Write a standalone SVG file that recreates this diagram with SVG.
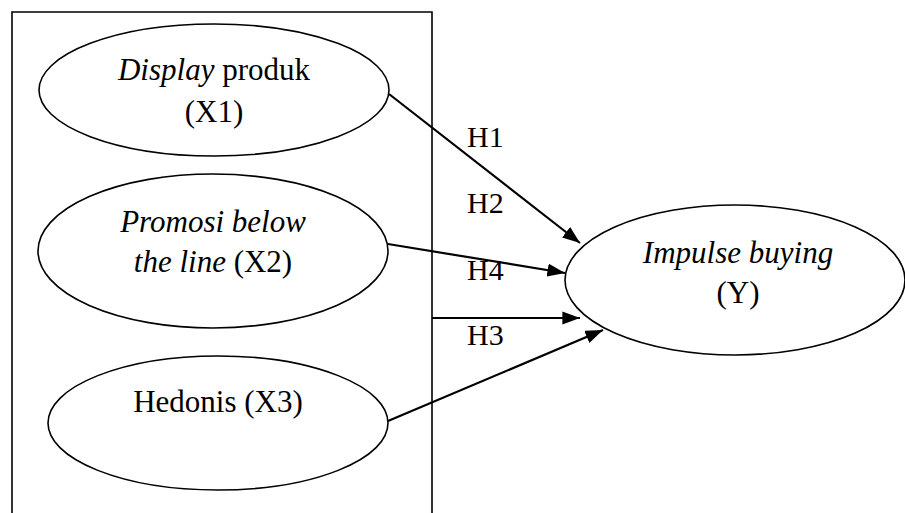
<svg xmlns="http://www.w3.org/2000/svg" width="905" height="513" viewBox="0 0 905 513">
<style>
.e{fill:#fff;stroke:#000;stroke-width:1.6}
.t{font-family:"Liberation Serif","Times New Roman",serif;font-size:31px;fill:#000;text-anchor:middle}
.h{font-family:"Liberation Serif","Times New Roman",serif;font-size:30px;fill:#000}
.c{stroke:#000;stroke-width:2.2;fill:none;marker-end:url(#ah)}
</style>
<defs>
<marker id="ah" markerWidth="8" markerHeight="6" refX="8" refY="3" orient="auto" markerUnits="strokeWidth">
<path d="M0,0 L8,3 L0,6 Z" fill="#000"/>
</marker>
</defs>
<rect width="905" height="513" fill="#fff"/>
<path d="M12,520 V12 H432 V520" fill="none" stroke="#000" stroke-width="1.6"/>
<g id="x1">
<ellipse class="e" cx="214" cy="90" rx="175" ry="66"/>
<text class="t" x="214" y="80"><tspan font-style="italic">Display</tspan> produk</text>
<text class="t" x="214" y="122">(X1)</text>
</g>
<g id="x2">
<ellipse class="e" cx="213" cy="251" rx="175" ry="77"/>
<text class="t" x="213" y="232" font-style="italic">Promosi below</text>
<text class="t" x="213" y="272"><tspan font-style="italic">the line</tspan> (X2)</text>
</g>
<g id="x3">
<ellipse class="e" cx="218" cy="423" rx="170" ry="67"/>
<text class="t" x="218" y="412">Hedonis (X3)</text>
</g>
<g id="y">
<ellipse class="e" cx="735" cy="280" rx="170" ry="75"/>
<text class="t" x="738" y="263" font-style="italic">Impulse buying</text>
<text class="t" x="738" y="303">(Y)</text>
</g>
<g id="connectors">
<line class="c" x1="389" y1="94" x2="580" y2="243"/>
<line class="c" x1="388" y1="244" x2="565" y2="273"/>
<line class="c" x1="432" y1="318" x2="580" y2="318"/>
<line class="c" x1="388" y1="421" x2="603" y2="330"/>
<text class="h" x="467" y="147">H1</text>
<text class="h" x="467" y="213">H2</text>
<text class="h" x="467" y="280">H4</text>
<text class="h" x="467" y="345">H3</text>
</g>
</svg>
